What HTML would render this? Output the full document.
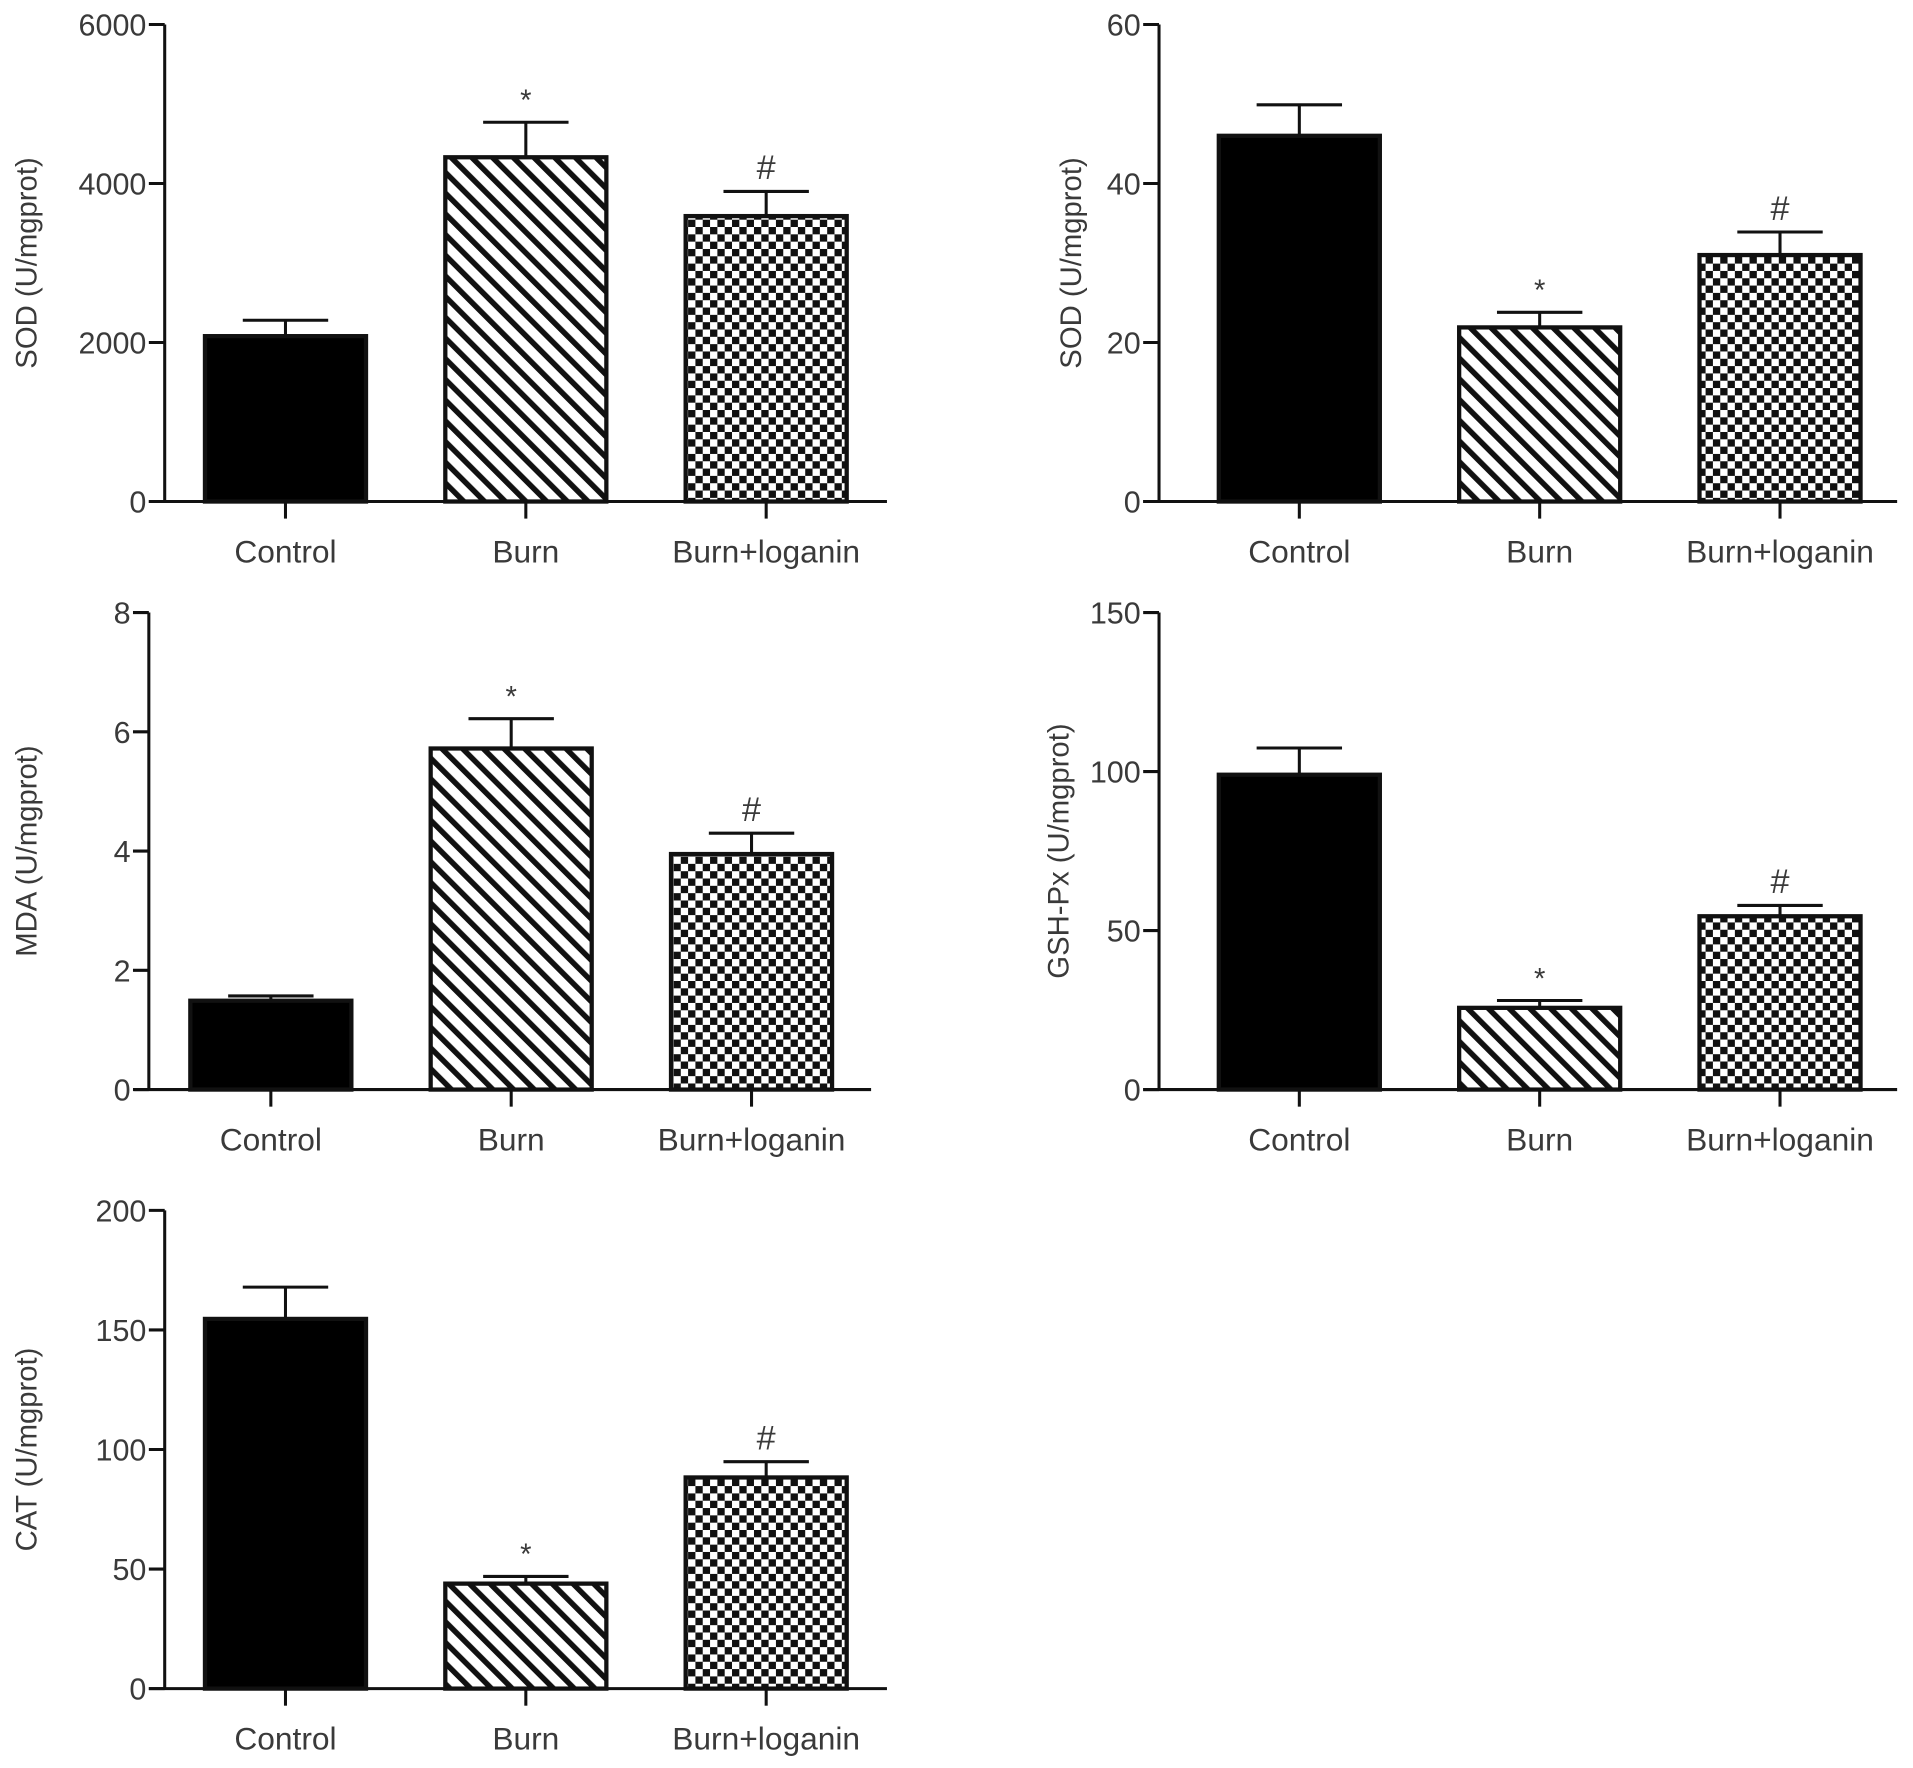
<!DOCTYPE html>
<html><head><meta charset="utf-8"><style>
html,body{margin:0;padding:0;background:#fff;}
svg{display:block;}
text{font-family:"Liberation Sans",Arial,sans-serif;fill:#3a3a3a;}
</style></head>
<body>
<svg id="fig" width="1913" height="1768" viewBox="0 0 1568 1449" xmlns="http://www.w3.org/2000/svg">
<defs>
<pattern id="hatch" patternUnits="userSpaceOnUse" width="12" height="12" patternTransform="rotate(-45)">
<rect width="12" height="12" fill="#fff"/><rect x="0" y="0" width="4.5" height="12" fill="#111"/>
</pattern>
<pattern id="check" patternUnits="userSpaceOnUse" width="12" height="12">
<rect width="12" height="12" fill="#fff"/><rect x="0" y="0" width="6" height="6" fill="#111"/><rect x="6" y="6" width="6" height="6" fill="#111"/>
</pattern>
</defs>
</svg>
<script>
const categories = ["Control","Burn","Burn+loganin"];
const sodAValues = [2080, 4330, 3590];
const sodAErrors = [200, 440, 310];
const sodATicks = [0, 2000, 4000, 6000];
const sodBValues = [46.0, 21.9, 31.0];
const sodBErrors = [3.9, 1.9, 2.9];
const sodBTicks = [0, 20, 40, 60];
const mdaValues = [1.49, 5.72, 3.95];
const mdaErrors = [0.08, 0.5, 0.35];
const mdaTicks = [0, 2, 4, 6, 8];
const gshValues = [99.0, 25.7, 54.5];
const gshErrors = [8.4, 2.3, 3.4];
const gshTicks = [0, 50, 100, 150];
const catValues = [154.6, 43.9, 88.3];
const catErrors = [13.3, 3.0, 6.6];
const catTicks = [0, 50, 100, 150, 200];
const marks = ["", "*", "#"];

const NS = "http://www.w3.org/2000/svg";
const svg = document.getElementById("fig");
function mk(tag, attrs, parent){
  const e = document.createElementNS(NS, tag);
  for (const k in attrs) e.setAttribute(k, attrs[k]);
  (parent||svg).appendChild(e); return e;
}
const fills = ["#000", "url(#hatch)", "url(#check)"];

function chart(id, cfg, values, errors, ticks, title){
  const g = mk("g", {});
  
  
  const maxV = ticks[ticks.length-1];
  const y = v => cfg.y0 - (v / maxV) * (cfg.y0 - cfg.yTop);
  const x = i => cfg.c0 + i * cfg.step;
  const ya = mk("line", {x1:cfg.ax, x2:cfg.ax, y1:cfg.yTop, y2:cfg.y0, stroke:"#111","stroke-width":2.5}, g);
  
  
  ticks.forEach(t => {
    mk("line", {x1:cfg.ax-13, x2:cfg.ax, y1:y(t), y2:y(t), stroke:"#111","stroke-width":2.5}, g);
    const tl = mk("text", {x:cfg.ax-15, y:y(t)+9, "text-anchor":"end","font-size":25}, g);
    tl.textContent = t;
    
    
  });
  const yt = mk("text", {x:0, y:0, "text-anchor":"middle","font-size":24, transform:`translate(${cfg.lx},${(cfg.yTop+cfg.y0)/2}) rotate(-90)`}, g);
  yt.textContent = title;
  
  
  values.forEach((v, i) => {
    const cx = x(i), w = 132;
    const top = y(v + errors[i]);
    mk("line", {x1:cx, x2:cx, y1:top, y2:y(v), stroke:"#111","stroke-width":2.5}, g);
    mk("line", {x1:cx-35, x2:cx+35, y1:top, y2:top, stroke:"#111","stroke-width":2.5}, g);
    const b = mk("rect", {x:cx-w/2, y:y(v), width:w, height:cfg.y0-y(v), fill:fills[i], stroke:"#111","stroke-width":3.5}, g);
    
    
    if (marks[i]) {
      const m = mk("text", {x:cx, y:top-10, "text-anchor":"middle","font-size":marks[i]==="#"?28:24, fill:"#222"}, g);
      m.textContent = marks[i];
      
      
    }
    mk("line", {x1:cx, x2:cx, y1:cfg.y0, y2:cfg.y0+14, stroke:"#111","stroke-width":2.5}, g);
    const cl = mk("text", {x:cx, y:cfg.y0+50, "text-anchor":"middle","font-size":26}, g);
    cl.textContent = categories[i];
    
    
  });
  const xa = mk("line", {x1:cfg.xa0, x2:cfg.xa1, y1:cfg.y0, y2:cfg.y0, stroke:"#111","stroke-width":2.5}, g);
  
  
}

chart("chart-sod-a", {ax:135, yTop:20, y0:411, xa0:122, xa1:727, c0:234, step:197, lx:30}, sodAValues, sodAErrors, sodATicks, "SOD (U/mgprot)");
chart("chart-sod-b", {ax:950, yTop:20, y0:411, xa0:937, xa1:1555, c0:1065, step:197, lx:886}, sodBValues, sodBErrors, sodBTicks, "SOD (U/mgprot)");
chart("chart-mda", {ax:122, yTop:502, y0:893, xa0:110, xa1:714, c0:222, step:197, lx:30}, mdaValues, mdaErrors, mdaTicks, "MDA (U/mgprot)");
chart("chart-gsh-px", {ax:950, yTop:502, y0:893, xa0:937, xa1:1555, c0:1065, step:197, lx:876}, gshValues, gshErrors, gshTicks, "GSH-Px (U/mgprot)");
chart("chart-cat", {ax:135, yTop:992, y0:1384, xa0:122, xa1:727, c0:234, step:197, lx:30}, catValues, catErrors, catTicks, "CAT (U/mgprot)");
</script>
</body></html>
